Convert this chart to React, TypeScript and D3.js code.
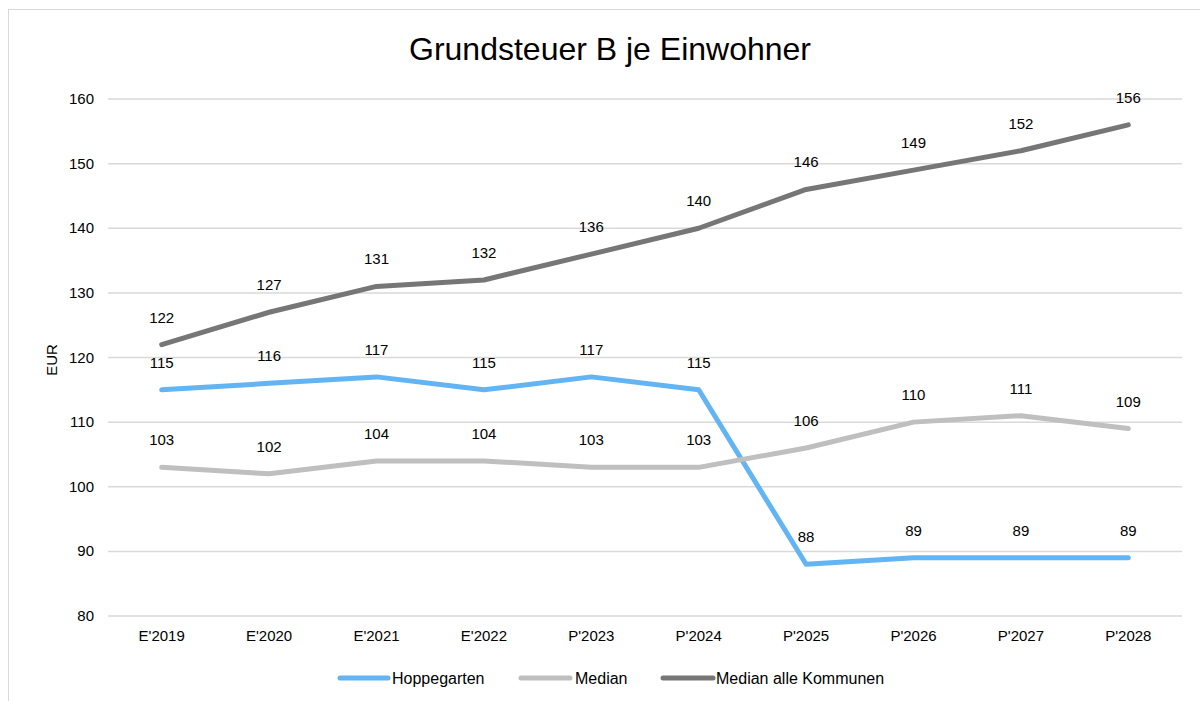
import React from "react";
import * as d3 from "d3";

const categories = ["E'2019", "E'2020", "E'2021", "E'2022", "P'2023", "P'2024", "P'2025", "P'2026", "P'2027", "P'2028"];
const hoppegarten = [115, 116, 117, 115, 117, 115, 88, 89, 89, 89];
const median = [103, 102, 104, 104, 103, 103, 106, 110, 111, 109];
const medianAlle = [122, 127, 131, 132, 136, 140, 146, 149, 152, 156];
const yTicks = [80, 90, 100, 110, 120, 130, 140, 150, 160];

const seriesList = [
  { name: "Hoppegarten", values: hoppegarten, color: "#62B4F3" },
  { name: "Median", values: median, color: "#BFBFBF" },
  { name: "Median alle Kommunen", values: medianAlle, color: "#767676" },
];

export default function App() {
  const W = 1200, H = 701;
  const x = d3.scaleBand<string>().domain(categories).range([108, 1182]);
  const y = d3.scaleLinear().domain([80, 160]).range([616, 99]);
  const cx = (c: string) => (x(c) as number) + x.bandwidth() / 2;
  const line = d3.line<number>().x((_, i) => cx(categories[i])).y((v) => y(v));
  const font = "'Liberation Sans', Arial, sans-serif";
  const legendItems = [
    { x1: 340, x2: 388, tx: 392 },
    { x1: 521, x2: 570, tx: 575 },
    { x1: 663, x2: 713, tx: 716 },
  ];
  return (
    <svg width={W} height={H} style={{ position: "absolute", left: 0, top: 0 }} fontFamily={font}>
      <rect x={8.5} y={9.5} width={1200} height={720} fill="#fff" stroke="#D9D9D9" strokeWidth={1} />
      <text x={610} y={60} textAnchor="middle" fontSize={32} fill="#000">Grundsteuer B je Einwohner</text>
      {yTicks.map((t) => (
        <g key={t}>
          <line x1={108} x2={1182} y1={y(t)} y2={y(t)} stroke="#D9D9D9" strokeWidth={1.5} />
          <text x={94} y={y(t) + 5} textAnchor="end" fontSize={15} fill="#000">{t}</text>
        </g>
      ))}
      <text transform={`translate(57,360) rotate(-90)`} textAnchor="middle" fontSize={15} fill="#000">EUR</text>
      {categories.map((c) => (
        <text key={c} x={cx(c)} y={641} textAnchor="middle" fontSize={15} fill="#000">{c}</text>
      ))}
      {seriesList.map((s) => (
        <path key={s.name} d={line(s.values) || ""} fill="none" stroke={s.color} strokeWidth={5} strokeLinejoin="round" strokeLinecap="round" />
      ))}
      {seriesList.map((s) =>
        s.values.map((v, i) => (
          <text key={s.name + i} x={cx(categories[i])} y={y(v) - 22} textAnchor="middle" fontSize={15} fill="#000">{v}</text>
        ))
      )}
      {seriesList.map((s, i) => (
        <g key={s.name}>
          <line x1={legendItems[i].x1} x2={legendItems[i].x2} y1={678} y2={678} stroke={s.color} strokeWidth={5} strokeLinecap="round" />
          <text x={legendItems[i].tx} y={683.5} fontSize={16} fill="#000">{s.name}</text>
        </g>
      ))}
    </svg>
  );
}
